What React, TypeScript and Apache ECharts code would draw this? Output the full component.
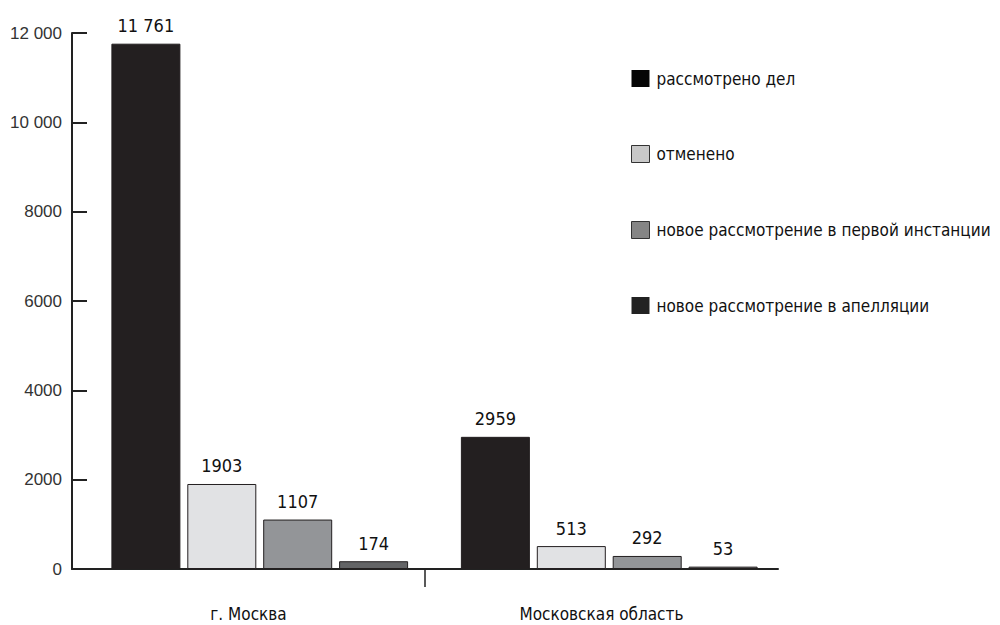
import React, { useEffect, useRef } from "react";
import * as echarts from "echarts";

const categories = ["г. Москва", "Московская область"];
const seriesNames = [
  "рассмотрено дел",
  "отменено",
  "новое рассмотрение в первой инстанции",
  "новое рассмотрение в апелляции",
];
const considered = [11761, 2959];
const cancelled = [1903, 513];
const firstInstance = [1107, 292];
const appeal = [174, 53];
const yTicks = { min: 0, max: 12000, interval: 2000 };

const barColors = ["#231f20", "#e1e2e4", "#939598", "#636466"];
const legendColors = ["#050505", "#c8c8c8", "#858585", "#222222"];

const fmt = (v: number) => {
  const s = String(Math.round(v));
  return v >= 10000 ? s.slice(0, s.length - 3) + " " + s.slice(-3) : s;
};

const COND = "'Liberation Sans Narrow', 'DejaVu Sans Condensed', 'Roboto', sans-serif";

export default function App() {
  const ref = useRef<HTMLDivElement>(null);
  useEffect(() => {
    if (!ref.current) return;
    const chart = echarts.init(ref.current, null, { renderer: "svg" });
    const values = [considered, cancelled, firstInstance, appeal];
    const bars = values.map((d, i) => ({
      name: seriesNames[i],
      type: "bar",
      xAxisIndex: 1,
      yAxisIndex: 1,
      data: d,
      barWidth: 69,
      barGap: "10%",
      itemStyle: { color: barColors[i], borderColor: "#231f20", borderWidth: 1 },
      label: {
        show: true,
        position: "top",
        distance: 9,
        fontFamily: COND,
        fontSize: 18,
        color: "#111",
        formatter: (p: any) => fmt(p.value),
      },
    }));
    chart.setOption({
      animation: false,
      backgroundColor: "#fff",
      grid: [
        { left: 72, top: 33, width: 706, height: 536 },
        { left: 85, top: 33, width: 699, height: 536 },
      ],
      legend: {
        orient: "vertical",
        left: 626,
        top: 65,
        itemWidth: 18,
        itemHeight: 17,
        itemGap: 58,
        icon: "rect",
        selectedMode: false,
        textStyle: { fontFamily: COND, fontSize: 17, color: "#111", padding: [0, 0, 0, 2] },
        data: seriesNames.map((n, i) => ({
          name: n,
          itemStyle: {
            color: legendColors[i],
            borderColor: "#333",
            borderWidth: i === 1 || i === 2 ? 1 : 0,
          },
        })),
      },
      xAxis: [
        {
          type: "category",
          gridIndex: 0,
          data: categories,
          axisLine: { show: true, lineStyle: { color: "#222", width: 2 } },
          axisTick: { show: false },
          axisLabel: { margin: 36, fontFamily: COND, fontSize: 17, color: "#111" },
        },
        {
          type: "category",
          gridIndex: 1,
          data: categories,
          show: false,
        },
      ],
      yAxis: [
        {
          type: "value",
          gridIndex: 0,
          min: yTicks.min,
          max: yTicks.max,
          interval: yTicks.interval,
          splitLine: { show: false },
          axisLine: { show: true, lineStyle: { color: "#222", width: 2 } },
          axisTick: { show: true, inside: true, length: 15, lineStyle: { color: "#222", width: 2 } },
          axisLabel: {
            margin: 10,
            fontFamily: "'Liberation Sans', Arial, sans-serif",
            fontSize: 17,
            color: "#333",
            formatter: (v: number) => fmt(v),
          },
        },
        {
          type: "value",
          gridIndex: 1,
          min: yTicks.min,
          max: yTicks.max,
          interval: yTicks.interval,
          show: false,
        },
      ],
      series: [
        ...bars,
        {
          type: "custom",
          name: "divider",
          xAxisIndex: 0,
          yAxisIndex: 0,
          silent: true,
          clip: false,
          data: [[0, 0]],
          renderItem: (params: any, api: any) => {
            const p = api.coord([api.value(0), 0]);
            const w = api.size([1, 0])[0];
            const x = p[0] + w / 2;
            return {
              type: "line",
              shape: { x1: x, y1: p[1], x2: x, y2: p[1] + 18 },
              style: { stroke: "#222", lineWidth: 1.5 },
            };
          },
        },
      ],
    });
    return () => chart.dispose();
  }, []);
  return (
    <div
      ref={ref}
      style={{ position: "fixed", left: 0, top: 0, width: 1000, height: 625, background: "#fff" }}
    />
  );
}
